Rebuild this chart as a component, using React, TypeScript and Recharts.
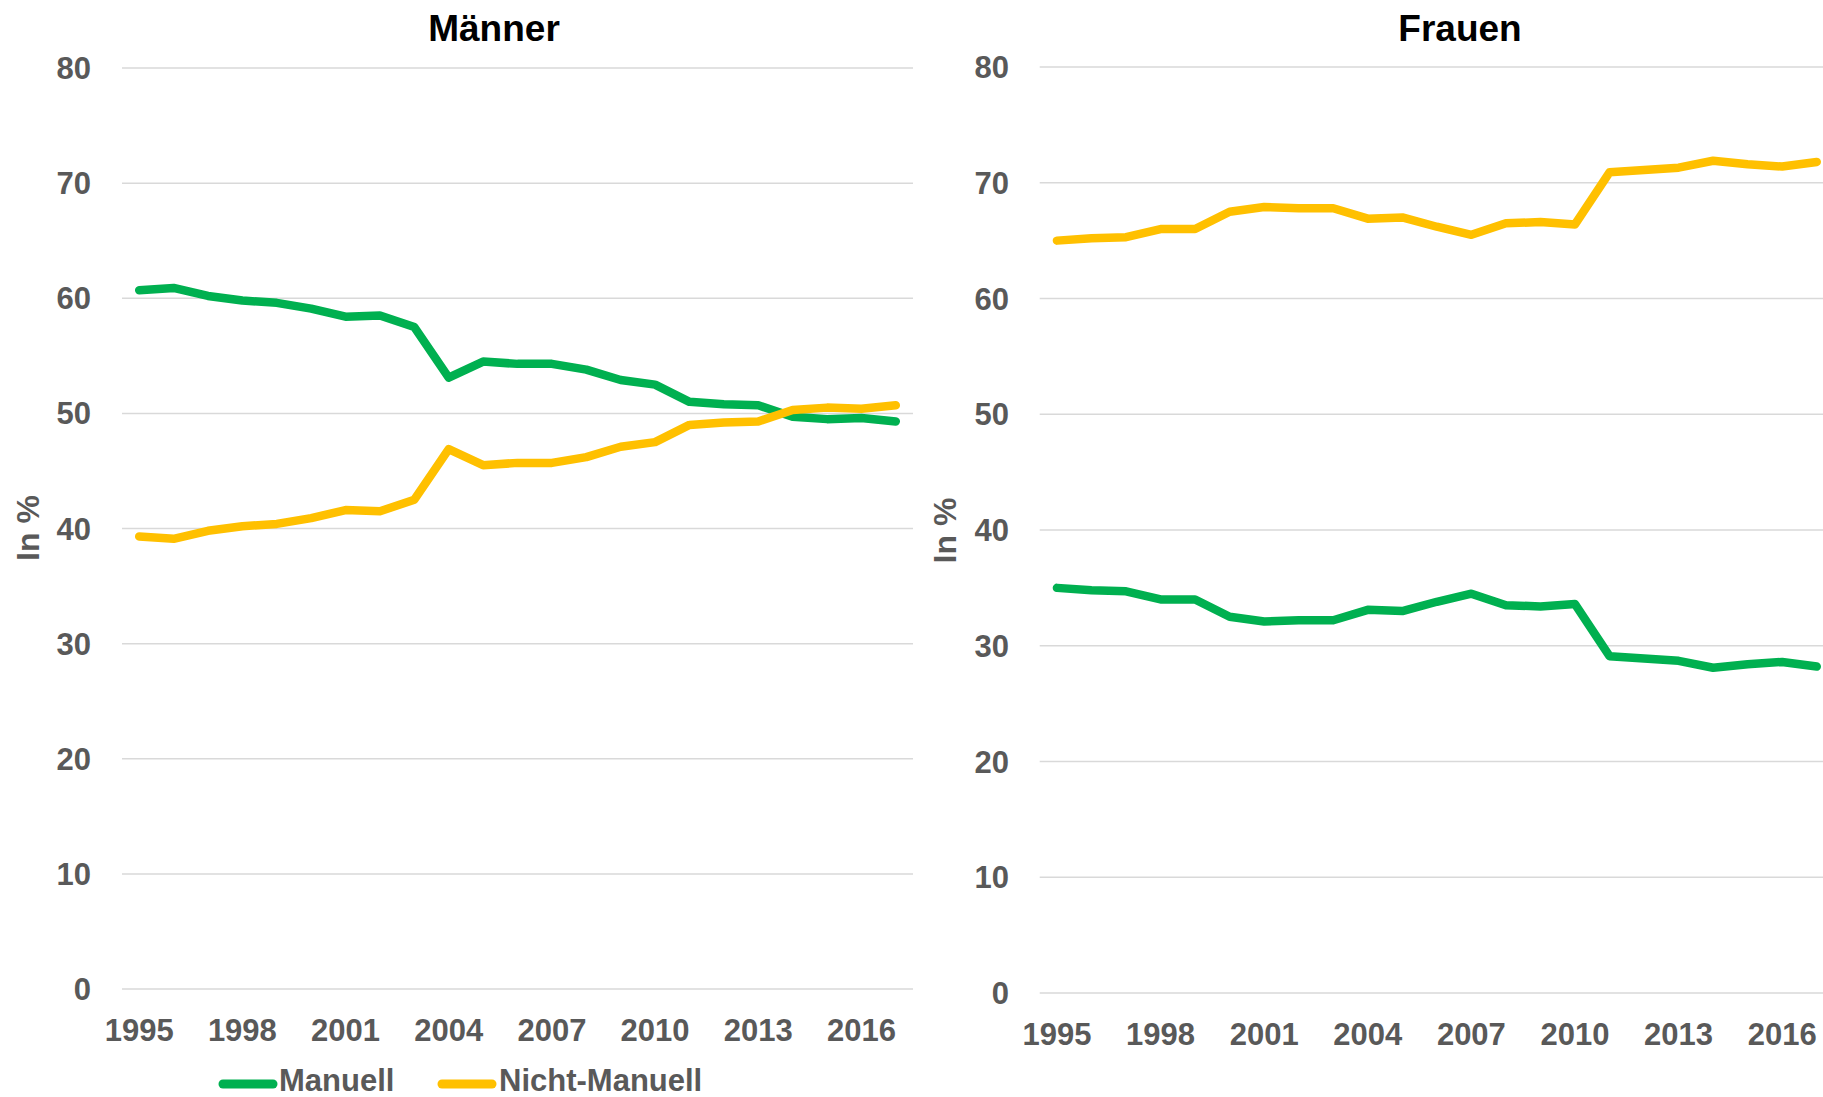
import React from 'react';
import { LineChart, Line, XAxis, YAxis, CartesianGrid, Legend } from 'recharts';

const years = ['1995','1996','1997','1998','1999','2000','2001','2002','2003','2004','2005','2006','2007','2008','2009','2010','2011','2012','2013','2014','2015','2016','2017'];

const maennerManuell = [60.7, 60.9, 60.2, 59.8, 59.6, 59.1, 58.4, 58.5, 57.5, 53.1, 54.5, 54.3, 54.3, 53.8, 52.9, 52.5, 51.0, 50.8, 50.7, 49.7, 49.5, 49.6, 49.3];
const maennerNicht = [39.3, 39.1, 39.8, 40.2, 40.4, 40.9, 41.6, 41.5, 42.5, 46.9, 45.5, 45.7, 45.7, 46.2, 47.1, 47.5, 49.0, 49.2, 49.3, 50.3, 50.5, 50.4, 50.7];
const frauenManuell = [35.0, 34.8, 34.7, 34.0, 34.0, 32.5, 32.1, 32.2, 32.2, 33.1, 33.0, 33.8, 34.5, 33.5, 33.4, 33.6, 29.1, 28.9, 28.7, 28.1, 28.4, 28.6, 28.2];
const frauenNicht = [65.0, 65.2, 65.3, 66.0, 66.0, 67.5, 67.9, 67.8, 67.8, 66.9, 67.0, 66.2, 65.5, 66.5, 66.6, 66.4, 70.9, 71.1, 71.3, 71.9, 71.6, 71.4, 71.8];

const yTicks = [0, 10, 20, 30, 40, 50, 60, 70, 80];
const seriesNames = ['Manuell', 'Nicht-Manuell'];
const titles = ['Männer', 'Frauen'];

const GREEN = '#00B050';
const YELLOW = '#FFC000';
const GRAY = '#595959';
const FONT = '"Liberation Sans", Arial, sans-serif';

const maennerData = years.map((y, i) => ({ year: y, manuell: maennerManuell[i], nicht: maennerNicht[i] }));
const frauenData = years.map((y, i) => ({ year: y, manuell: frauenManuell[i], nicht: frauenNicht[i] }));

const tickStyle = { fill: GRAY, fontSize: 31, fontWeight: 700, fontFamily: FONT };

const LegendContent = () => (
  <svg width={540} height={36} style={{ display: 'block', overflow: 'visible' }}>
    <line x1={23} y1={20} x2={73} y2={20} stroke={GREEN} strokeWidth={9} strokeLinecap="round" />
    <text x={79} y={27} fill={GRAY} fontSize={31} fontWeight={700} fontFamily={FONT}>{seriesNames[0]}</text>
    <line x1={242} y1={20} x2={292} y2={20} stroke={YELLOW} strokeWidth={9} strokeLinecap="round" />
    <text x={299} y={27} fill={GRAY} fontSize={31} fontWeight={700} fontFamily={FONT}>{seriesNames[1]}</text>
  </svg>
);

type PanelProps = {
  data: any[];
  title: string;
  left: number;
  width: number;
  yAxisWidth: number;
  marginTop: number;
  marginBottom: number;
  marginRight: number;
  pad: number;
  titleX: number;
  labelX: number;
  labelY: number;
  tickMargin: number;
  withLegend?: boolean;
};

const Panel = (p: PanelProps) => (
  <div style={{ position: 'absolute', left: p.left, top: 0 }}>
    <LineChart
      width={p.width}
      height={1097}
      data={p.data}
      margin={{ top: p.marginTop, right: p.marginRight, bottom: p.marginBottom, left: 0 }}
    >
      <CartesianGrid horizontal vertical={false} stroke="#D9D9D9" strokeWidth={1.5} />
      <XAxis
        dataKey="year"
        interval={2}
        axisLine={false}
        tickLine={false}
        tickSize={0}
        tickMargin={30}
        height={50}
        padding={{ left: p.pad, right: p.pad }}
        tick={tickStyle}
      />
      <YAxis
        domain={[0, 80]}
        ticks={yTicks}
        axisLine={false}
        tickLine={false}
        tickSize={0}
        tickMargin={p.tickMargin}
        width={p.yAxisWidth}
        tick={tickStyle}
      />
      <Line
        type="linear"
        dataKey="manuell"
        name={seriesNames[0]}
        stroke={GREEN}
        strokeWidth={8.5}
        strokeLinecap="round"
        strokeLinejoin="round"
        dot={false}
        activeDot={false}
        isAnimationActive={false}
      />
      <Line
        type="linear"
        dataKey="nicht"
        name={seriesNames[1]}
        stroke={YELLOW}
        strokeWidth={8.5}
        strokeLinecap="round"
        strokeLinejoin="round"
        dot={false}
        activeDot={false}
        isAnimationActive={false}
      />
      {p.withLegend ? (
        <Legend
          layout="horizontal"
          verticalAlign="middle"
          align="center"
          content={LegendContent}
          wrapperStyle={{ position: 'absolute', left: 200, top: 1064, width: 540, height: 36, bottom: 'auto', right: 'auto' }}
        />
      ) : null}
      <text x={p.titleX} y={41} textAnchor="middle" fill="#000" fontSize={37} fontWeight={700} fontFamily={FONT}>
        {p.title}
      </text>
      <text
        x={p.labelX}
        y={p.labelY}
        transform={`rotate(-90, ${p.labelX}, ${p.labelY})`}
        textAnchor="middle"
        dominantBaseline="central"
        fill={GRAY}
        fontSize={32}
        fontWeight={700}
        fontFamily={FONT}
      >
        In %
      </text>
    </LineChart>
  </div>
);

export default function App() {
  return (
    <div style={{ position: 'fixed', left: 0, top: 0, width: 1823, height: 1097, overflow: 'hidden', background: '#fff' }}>
      <Panel
        data={maennerData}
        title={titles[0]}
        left={0}
        width={920}
        yAxisWidth={122}
        marginTop={68}
        marginBottom={58}
        marginRight={7}
        pad={17.2}
        titleX={494}
        labelX={28}
        labelY={528}
        tickMargin={31}
        withLegend
      />
      <Panel
        data={frauenData}
        title={titles[1]}
        left={900}
        width={934}
        yAxisWidth={139.7}
        marginTop={67}
        marginBottom={54}
        marginRight={0}
        pad={17.26}
        titleX={560}
        labelX={44.5}
        labelY={530.5}
        tickMargin={30.7}
      />
    </div>
  );
}
